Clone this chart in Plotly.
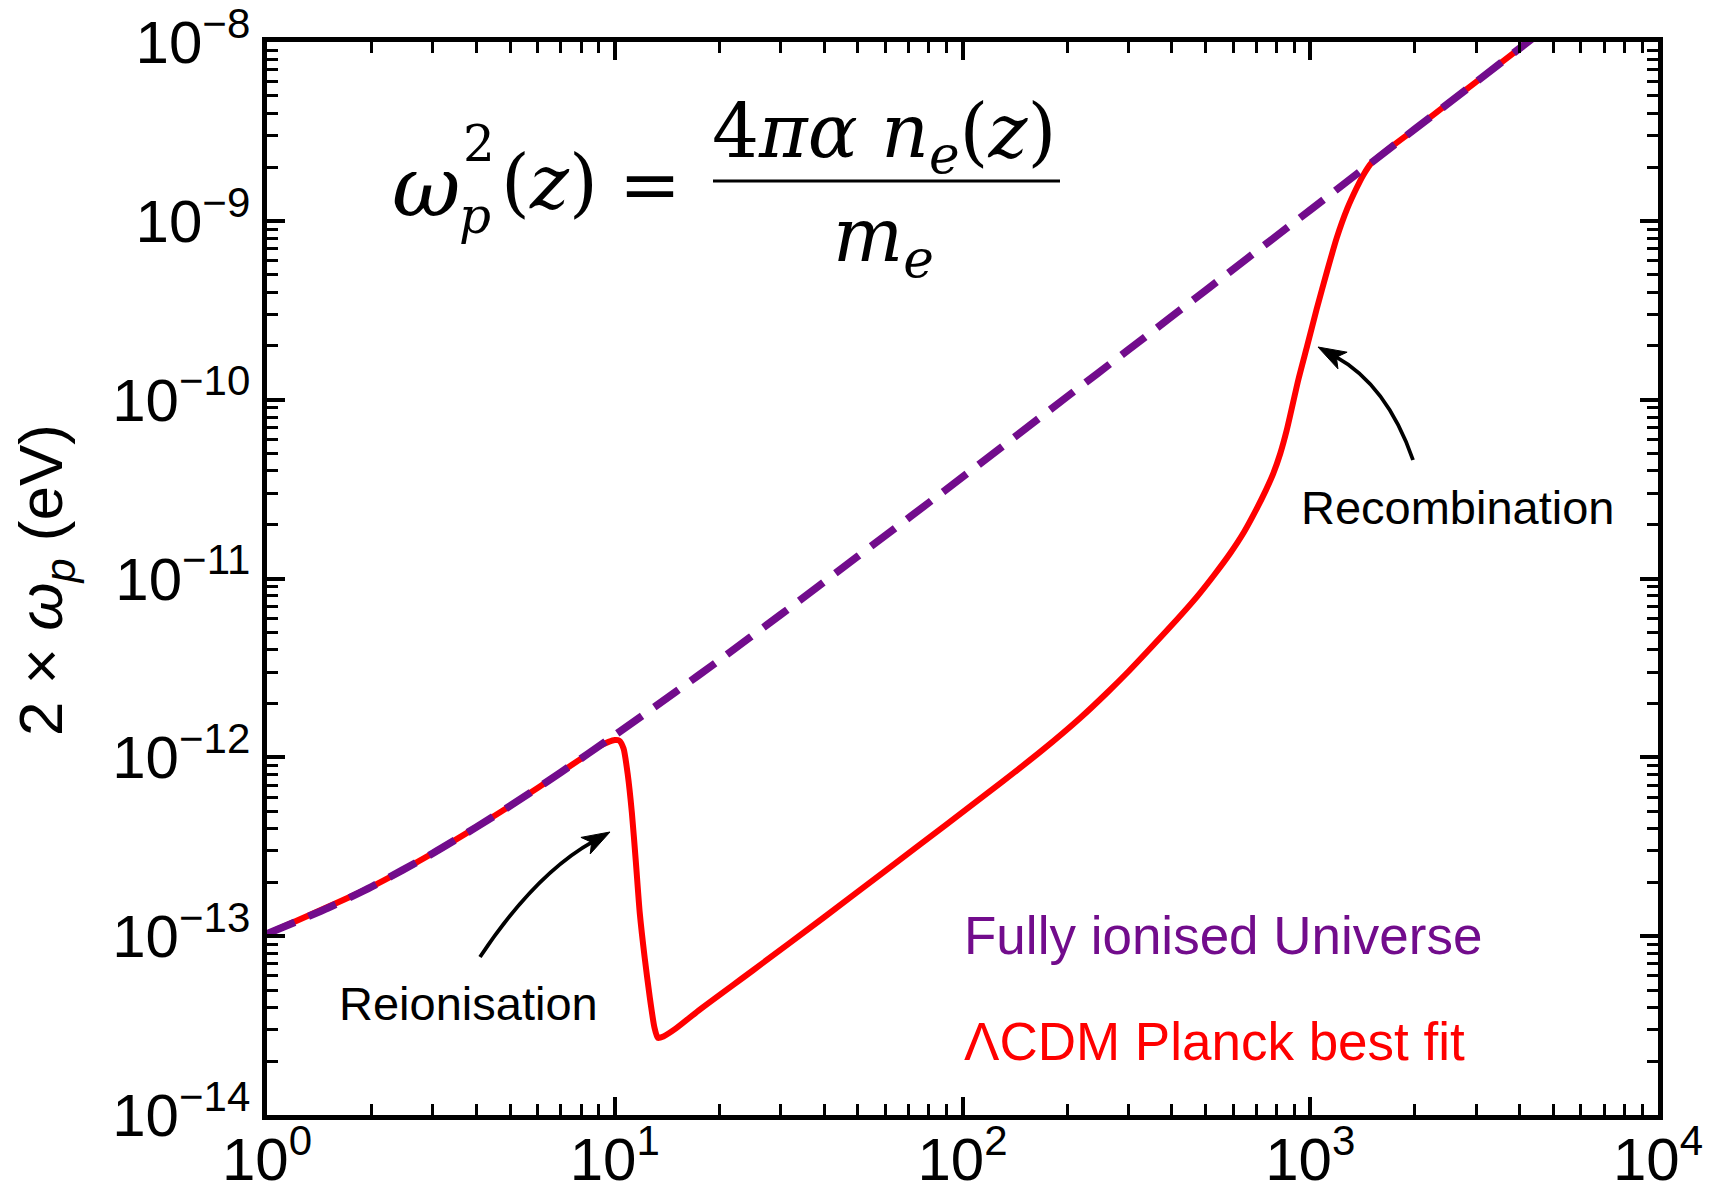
import plotly.graph_objects as go

# ---------------- data ----------------
z_ionised = [1, 1.5, 2, 3, 4, 5, 7, 10, 15, 20, 30, 50, 100, 200, 300, 500,
             1000, 2000, 3000, 4500]
wp_ionised = [1.03e-13, 1.44e-13, 1.89e-13, 2.91e-13, 4.07e-13, 5.35e-13,
              8.24e-13, 1.33e-12, 2.33e-12, 3.50e-12, 6.28e-12, 1.33e-11,
              3.69e-11, 1.04e-10, 1.90e-10, 4.08e-10, 1.15e-09, 3.26e-09,
              5.98e-09, 1.10e-08]

z_lcdm = [1, 2, 3, 4, 5, 6, 7, 8, 9, 9.6, 10.0, 10.3, 10.6, 10.9, 11.2, 11.5,
          11.8, 12.2, 12.6, 13.0, 13.3, 13.8, 15, 17.6, 25, 40, 60, 90, 130,
          170, 218, 260, 300, 339, 400, 472, 530, 588, 645, 701, 745, 783,
          820, 856, 924, 980, 1043, 1120, 1191, 1280, 1358, 1420, 1500, 2000,
          3000, 4500]
wp_lcdm = [1.03e-13, 1.89e-13, 2.91e-13, 4.07e-13, 5.35e-13, 6.74e-13,
           8.24e-13, 9.83e-13, 1.15e-12, 1.22e-12, 1.25e-12, 1.24e-12,
           1.12e-12, 8.0e-13, 4.9e-13, 2.6e-13, 1.35e-13, 7.5e-14, 4.6e-14,
           3.1e-14, 2.7e-14, 2.75e-14, 3.05e-14, 3.9e-14, 6.45e-14,
           1.276e-13, 2.32e-13, 4.22e-13, 7.29e-13, 1.10e-12, 1.66e-12,
           2.29e-12, 3.02e-12, 3.88e-12, 5.49e-12, 7.9e-12, 1.05e-11,
           1.38e-11, 1.82e-11, 2.45e-11, 3.11e-11, 3.87e-11, 5.0e-11,
           6.76e-11, 1.29e-10, 2.0e-10, 3.2e-10, 5.3e-10, 8.0e-10, 1.18e-09,
           1.52e-09, 1.8e-09, 2.11e-09, 3.26e-09, 5.98e-09, 1.10e-08]

x_tick_vals = [1, 10, 100, 1000, 10000]
x_tick_text = ["10<sup>0</sup>", "10<sup>1</sup>", "10<sup>2</sup>",
               "10<sup>3</sup>", "10<sup>4</sup>"]
y_tick_vals = [1e-14, 1e-13, 1e-12, 1e-11, 1e-10, 1e-9, 1e-8]
y_tick_text = ["10<sup>\u221214</sup>", "10<sup>\u221213</sup>",
               "10<sup>\u221212</sup>", "10<sup>\u221211</sup>",
               "10<sup>\u221210</sup>", "10<sup>\u22129</sup>",
               "10<sup>\u22128</sup>"]

label_ionised = "Fully ionised Universe"
label_lcdm = "\u039bCDM Planck best fit"
label_reion = "Reionisation"
label_recomb = "Recombination"
y_title = "2 \u00d7 <i>\u03c9</i><sub><i>p</i></sub> (eV)"

RED = "#FF0000"
PURPLE = "#720C8C"

# ---------------- layout helpers ----------------
W, H = 1722, 1183
L, R, T, B = 267, 1658, 42, 1115


def px(X):
    return (X - L) / (R - L)


def py(Y):
    return 1 - (Y - T) / (B - T)


minor_x = [k * 10 ** d for d in range(0, 4) for k in range(2, 10)]
minor_y = [k * 10.0 ** d for d in range(-14, -8) for k in range(2, 10)]

fig = go.Figure()
fig.add_trace(go.Scatter(x=z_lcdm, y=wp_lcdm, mode="lines",
                         line=dict(color=RED, width=6, shape="spline",
                                   smoothing=0.6),
                         showlegend=False, hoverinfo="skip"))
fig.add_trace(go.Scatter(x=z_ionised, y=wp_ionised, mode="lines",
                         line=dict(color=PURPLE, width=7.5, dash="30px,15px",
                                   shape="spline", smoothing=0.5),
                         showlegend=False, hoverinfo="skip"))

axis_common = dict(type="log", ticks="inside", ticklen=18, tickwidth=4,
                   tickcolor="black", showline=True, linewidth=4.5,
                   linecolor="black", mirror="ticks", showgrid=False,
                   zeroline=False, automargin=False,
                   ticklabeloverflow="allow",
                   tickfont=dict(family="Liberation Sans", size=60,
                                 color="black"))

fig.update_layout(
    template="none",
    width=W, height=H,
    margin=dict(l=L, r=W - R, t=T, b=H - B, pad=0, autoexpand=False),
    paper_bgcolor="white", plot_bgcolor="white",
    xaxis=dict(range=[0, 4], tickmode="array", tickvals=x_tick_vals,
               ticktext=x_tick_text, ticklabelstandoff=-12,
               minor=dict(ticks="inside", ticklen=11, tickwidth=3,
                          tickcolor="black", tickmode="array",
                          tickvals=minor_x, showgrid=False),
               **axis_common),
    yaxis=dict(range=[-14, -8], tickmode="array", tickvals=y_tick_vals,
               ticktext=y_tick_text,
               minor=dict(ticks="inside", ticklen=11, tickwidth=3,
                          tickcolor="black", tickmode="array",
                          tickvals=minor_y, showgrid=False),
               **axis_common),
)

ann = []
SANS = "Liberation Sans"
SERIF = "DejaVu Serif"


def text(X, Y, s, size, color="black", family=SANS, xanchor="left",
         angle=0):
    ann.append(dict(x=px(X), y=py(Y), xref="paper", yref="paper", text=s,
                    showarrow=False, xanchor=xanchor, yanchor="middle",
                    textangle=angle,
                    font=dict(family=family, size=size, color=color)))


# y axis title
text(45, 580, y_title, 62, xanchor="center", angle=-90)

# legend-like labels
text(962, 935, label_ionised, 53, color=PURPLE)
text(962, 1041, label_lcdm, 53, color=RED)
text(337, 1003, label_reion, 47)
text(1299, 507, label_recomb, 47)

# formula
FS = 74
text(426, 187, "<i>\u03c9</i>", 84, family=SERIF, xanchor="center")
text(479, 144, "2", 50, family=SERIF, xanchor="center")
text(475, 216, "<i>p</i>", 50, family=SERIF, xanchor="center")
text(549, 182, "(<i>z</i>)", FS, family=SERIF, xanchor="center")
text(650, 184, "=", FS, family=SERIF, xanchor="center")
text(884, 137, "4<i>\u03c0\u03b1 n</i><sub><i>e</i></sub>(<i>z</i>)", FS,
     family=SERIF, xanchor="center")
text(883, 240, "<i>m</i><sub><i>e</i></sub>", FS, family=SERIF,
     xanchor="center")

fig.update_layout(annotations=ann)

shapes = [dict(type="line", xref="paper", yref="paper", x0=px(713),
               x1=px(1060), y0=py(181), y1=py(181),
               line=dict(color="black", width=3))]


def curved_arrow(tail, ctrl, tip, hl=28, hw=9.5):
    dx, dy = tip[0] - ctrl[0], tip[1] - ctrl[1]
    n = (dx * dx + dy * dy) ** 0.5
    ux, uy = dx / n, dy / n
    end = (tip[0] - ux * hl * 0.7, tip[1] - uy * hl * 0.7)
    path = "M {:.5f},{:.5f} Q {:.5f},{:.5f} {:.5f},{:.5f}".format(
        px(tail[0]), py(tail[1]), px(ctrl[0]), py(ctrl[1]),
        px(end[0]), py(end[1]))
    shapes.append(dict(type="path", xref="paper", yref="paper", path=path,
                       line=dict(color="black", width=3.8)))
    bx, by = tip[0] - ux * hl, tip[1] - uy * hl
    nx, ny = -uy, ux
    pts = [tip,
           (bx + nx * hw, by + ny * hw),
           (tip[0] - ux * hl * 0.75, tip[1] - uy * hl * 0.75),
           (bx - nx * hw, by - ny * hw)]
    p = "M " + " L ".join("{:.5f},{:.5f}".format(px(a), py(b))
                          for a, b in pts) + " Z"
    shapes.append(dict(type="path", xref="paper", yref="paper", path=p,
                       fillcolor="black", line=dict(color="black", width=1)))


curved_arrow((480, 957), (535, 874), (610, 832))
curved_arrow((1413, 460), (1387, 385), (1318, 347))

fig.update_layout(shapes=shapes)
fig.write_html("out.html")
